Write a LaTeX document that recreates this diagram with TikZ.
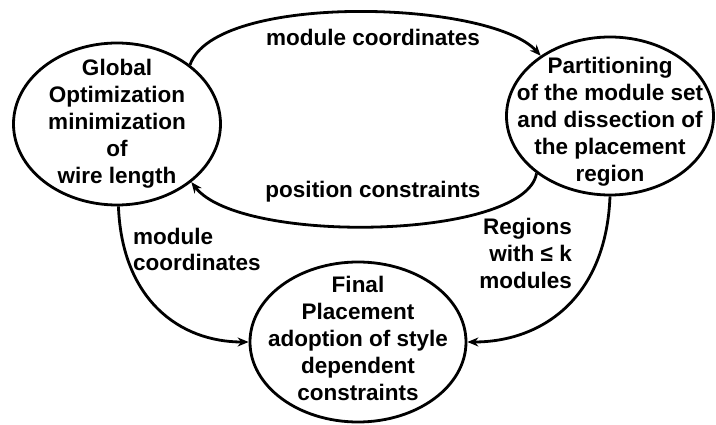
\documentclass[tikz,border=0pt]{standalone}
\usepackage{fontspec}
\setmainfont{Liberation Sans}
\usetikzlibrary{shapes.geometric,arrows.meta}
\begin{document}
\begin{tikzpicture}[x=1pt,y=-1pt,
  stage/.style={ellipse, draw, line width=2.8pt, inner xsep=-60pt, inner ysep=-60pt,
    align=center, font=\fontsize{22.5}{27}\selectfont\bfseries},
  flow/.style={line width=2.8pt, -{Stealth[length=11pt,width=9pt]}},
  tag/.style={inner sep=0pt, font=\fontsize{22.5}{26}\selectfont\bfseries}
]
\useasboundingbox (0,0) rectangle (716,425);

% the three stages
\node[stage, minimum width=207pt, minimum height=162pt] (opt) at (117,124)
  {Global\\Optimization\\minimization\\of\\wire length};
\node[stage, minimum width=207pt, minimum height=158pt, text height=135.5pt]
  (part) at (610,116)
  {Partitioning\\of the module set\\and dissection of\\the placement\\region};
\node[stage, minimum width=216pt, minimum height=160pt, text depth=8pt]
  (final) at (358,342)
  {Final\\Placement\\adoption of style\\dependent\\constraints};

% loop between optimization and partitioning
\draw[flow] (opt.39) .. controls (215,-8) and (490,0) .. (part.139);
\draw[flow] (part.218) .. controls (525,240) and (240,245) .. (opt.322);
\node[tag] (lblcoord) at (373,37) {module coordinates};
\node[tag] (lblpos) at (373,192) {position constraints};

% both stages feed the final placement
\draw[flow] (opt.271) .. controls (122,300) and (180,342) .. (final.180);
\draw[flow] (part.270) .. controls (606,300) and (540,342) .. (final.0);
\node[tag, align=left, anchor=north west] (lblmod) at (133,228) {module\\coordinates};
\node[tag, align=right, anchor=north east, font=\fontsize{22.5}{27}\selectfont\bfseries]
  (lblreg) at (572,218) {Regions\\with ≤ k\\modules};
\end{tikzpicture}
\end{document}
